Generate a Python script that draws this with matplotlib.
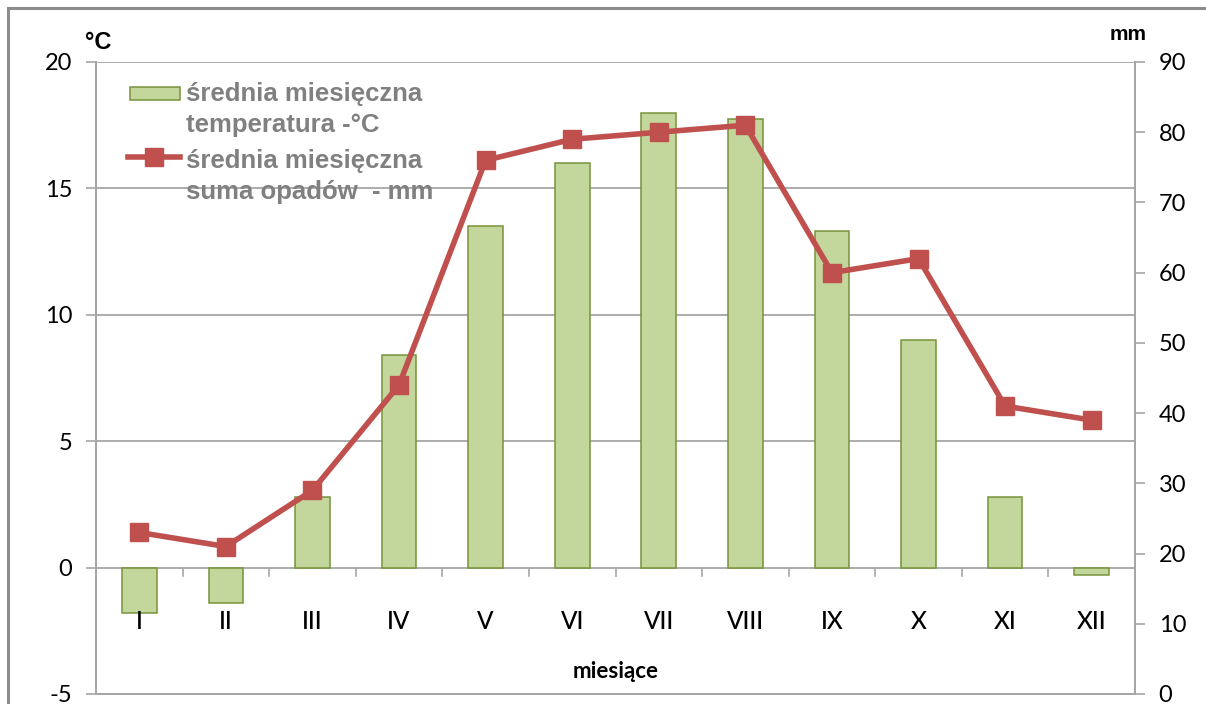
import matplotlib as mpl
mpl.use('Agg')
import matplotlib.pyplot as plt
from matplotlib.lines import Line2D
from matplotlib.patches import Rectangle
import numpy as np

plt.rcParams['axes.unicode_minus'] = False

# data
months = ['I', 'II', 'III', 'IV', 'V', 'VI', 'VII', 'VIII', 'IX', 'X', 'XI', 'XII']
temp = [-1.8, -1.4, 2.8, 8.4, 13.5, 16.0, 18.0, 17.75, 13.3, 9.0, 2.8, -0.3]
precip = [23, 21, 29, 44, 76, 79, 80, 81, 60, 62, 41, 39]
temp_ticks = [-5, 0, 5, 10, 15, 20]
precip_ticks = [0, 10, 20, 30, 40, 50, 60, 70, 80, 90]
legend_labels = ['średnia miesięczna\ntemperatura -°C', 'średnia miesięczna\nsuma opadów  - mm']

W, H = 1206, 704
fig = plt.figure(figsize=(W / 100, H / 100), dpi=100)
ax = fig.add_axes([96 / W, 1 - 694 / H, (1135 - 96) / W, (694 - 62) / H])
ax2 = ax.twinx()

grey = '#A6A6A6'
bar_fc, bar_ec, line_c = '#C3D69B', '#77933C', '#C0504D'

def fx(px):
    return px / W

def fy(py):
    return 1 - py / H

# outer frame of the original picture (partly cut off)
fig.patches.append(Rectangle((fx(8), -0.05), 1.1, fy(8) + 0.05,
                             transform=fig.transFigure, fill=False,
                             edgecolor='#8C8C8C', lw=2.2, zorder=0))

x = np.arange(len(months))
ax.bar(x, temp, width=0.4, color=bar_fc, edgecolor=bar_ec, lw=1.1, zorder=2)
ax.set_xlim(-0.5, len(months) - 0.5)
ax.set_ylim(-5, 20)
ax.set_yticks(temp_ticks)
for t in [5, 10, 15, 20]:
    ax.axhline(t, color=grey, lw=1.3, zorder=0)
ax.axhline(0, color=grey, lw=1.3, zorder=1)
ax.set_xticks([])
# category ticks on the zero line
for b in x[:-1] + 0.5:
    ax.plot([b, b], [0, -0.32], color=grey, lw=1.2, zorder=1)
for xi, m in zip(x, months):
    ax.text(xi, -2.15, m, ha='center', va='center', family='Lato', fontsize=17.5,
            fontweight='medium')
ax.text(5.5, -4.1, 'miesiące', ha='center', va='center', family='Lato',
        fontsize=16, fontweight='bold')

ax2.plot(x, precip, color=line_c, lw=4, marker='s', markersize=13,
         markerfacecolor=line_c, markeredgecolor=line_c, zorder=3)
ax2.set_ylim(0, 90)
ax2.set_yticks(precip_ticks)

for a in (ax, ax2):
    for s in a.spines.values():
        s.set_color(grey)
        s.set_linewidth(1.3)
    a.spines['top'].set_visible(False)
    a.tick_params(axis='y', colors=grey, length=7, width=1.2, pad=10)
    for lab in a.get_yticklabels():
        lab.set_color('black')
        lab.set_fontfamily('Lato')
        lab.set_fontsize(17)

ax.text(-0.47, 20.3, '°C', ha='center', va='bottom', family='Liberation Sans',
        fontsize=17, fontweight='bold')
ax2.text(11.42, 92.6, 'mm', ha='center', va='bottom', family='Liberation Sans',
         fontsize=15, fontweight='bold')

# legend drawn by hand so the keys sit on the first text line, as in the original
fig.patches.append(Rectangle((fx(130), fy(100)), fx(50), 13 / H, transform=fig.transFigure,
                             facecolor=bar_fc, edgecolor=bar_ec, lw=1.1, zorder=5))
fig.lines.append(Line2D([fx(128), fx(180)], [fy(157), fy(157)], transform=fig.transFigure,
                        color=line_c, lw=4, zorder=5))
fig.lines.append(Line2D([fx(154)], [fy(157)], transform=fig.transFigure, color=line_c,
                        marker='s', markersize=13, zorder=6))
for ty, lab in zip([82, 149], legend_labels):
    fig.text(fx(186), fy(ty), lab, ha='left', va='top', color='#808080',
             family='Liberation Sans', fontweight='bold', fontsize=18.5, linespacing=1.36)

fig.savefig('out.png', dpi=100)
